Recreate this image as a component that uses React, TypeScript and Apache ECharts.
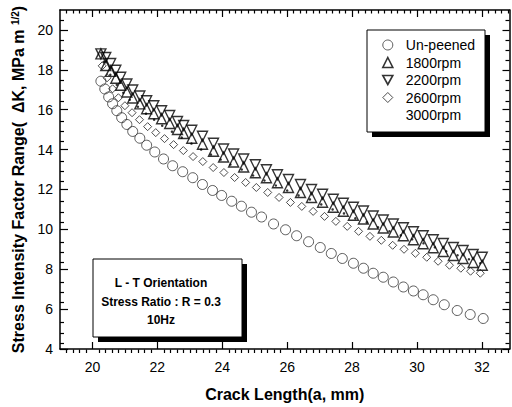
import React, { useEffect, useRef } from 'react';
import * as echarts from 'echarts';

const FONT = '"Liberation Sans", Arial, sans-serif';

// Axis ranges and tick labels
const X_MIN = 19;
const X_MAX = 32.85;
const Y_MIN = 4;
const Y_MAX = 21;
const xMajorTicks = [20, 22, 24, 26, 28, 30, 32];
const yMajorTicks = [4, 6, 8, 10, 12, 14, 16, 18, 20];

// Series names
const seriesNames = ['Un-peened', '1800rpm', '2200rpm', '2600rpm', '3000rpm'];

// Un-peened
const unpeenedX = [20.26, 20.38, 20.5, 20.62, 20.75, 20.9, 21.06, 21.24, 21.46, 21.67, 21.92, 22.19, 22.47, 22.78, 23.09, 23.39, 23.7, 23.98, 24.29, 24.59, 24.9, 25.21, 25.58, 25.95, 26.29, 26.66, 27.02, 27.36, 27.7, 28.04, 28.35, 28.65, 28.96, 29.27, 29.58, 29.89, 30.19, 30.5, 30.84, 31.24, 31.64, 32.04];
const unpeenedY = [17.43, 17.04, 16.64, 16.3, 15.95, 15.6, 15.26, 14.91, 14.57, 14.22, 13.88, 13.53, 13.19, 12.89, 12.59, 12.25, 11.95, 11.7, 11.41, 11.16, 10.86, 10.62, 10.27, 9.98, 9.68, 9.38, 9.09, 8.79, 8.54, 8.3, 8.05, 7.8, 7.6, 7.36, 7.11, 6.91, 6.72, 6.47, 6.22, 5.93, 5.73, 5.53];

// 1800rpm and 2200rpm (shared crack lengths)
const peenedX = [20.26, 20.41, 20.56, 20.72, 20.87, 21.06, 21.24, 21.46, 21.67, 21.89, 22.13, 22.38, 22.62, 22.81, 23.06, 23.39, 23.73, 24.04, 24.35, 24.66, 25.02, 25.36, 25.7, 26.04, 26.41, 26.75, 27.09, 27.42, 27.73, 28.04, 28.35, 28.65, 28.96, 29.27, 29.58, 29.89, 30.19, 30.5, 30.81, 31.12, 31.42, 31.73, 32.01];
const rpm1800Y = [18.8, 18.22, 17.92, 17.58, 17.23, 16.89, 16.59, 16.29, 16.05, 15.8, 15.55, 15.31, 15.01, 14.81, 14.57, 14.27, 13.92, 13.63, 13.38, 13.13, 12.84, 12.59, 12.34, 12.1, 11.85, 11.6, 11.36, 11.11, 10.91, 10.71, 10.52, 10.27, 10.07, 9.87, 9.68, 9.48, 9.28, 9.08, 8.89, 8.69, 8.54, 8.34, 8.2];
const rpm2200Y = [18.8, 18.62, 18.32, 17.98, 17.63, 17.29, 16.99, 16.69, 16.45, 16.2, 15.95, 15.71, 15.41, 15.21, 14.97, 14.67, 14.32, 14.03, 13.78, 13.53, 13.24, 12.99, 12.74, 12.5, 12.25, 12.0, 11.76, 11.51, 11.31, 11.11, 10.92, 10.67, 10.47, 10.27, 10.08, 9.88, 9.68, 9.48, 9.29, 9.09, 8.94, 8.74, 8.6];

// 2600rpm
const rpm2600X = [20.3, 20.45, 20.62, 20.8, 21.0, 21.22, 21.45, 21.7, 21.95, 22.22, 22.5, 22.8, 23.1, 23.4, 23.72, 24.05, 24.38, 24.72, 25.05, 25.4, 25.75, 26.1, 26.45, 26.8, 27.15, 27.5, 27.85, 28.2, 28.55, 28.9, 29.25, 29.6, 29.95, 30.3, 30.65, 31.0, 31.35, 31.65, 31.95];
const rpm2600Y = [18.2, 17.6, 17.05, 16.6, 16.2, 15.85, 15.5, 15.15, 14.85, 14.55, 14.25, 13.95, 13.65, 13.4, 13.1, 12.85, 12.6, 12.35, 12.1, 11.85, 11.6, 11.35, 11.15, 10.9, 10.65, 10.4, 10.15, 9.9, 9.65, 9.45, 9.2, 9.0, 8.8, 8.6, 8.4, 8.2, 8.05, 7.9, 7.8];

// 3000rpm
const rpm3000X = [20.35, 20.55, 20.75, 20.95, 21.15, 21.4, 21.65, 21.9, 22.15, 22.45, 22.75, 23.05, 23.35, 23.65, 23.95, 24.25, 24.6, 24.95, 25.3, 25.65, 26.0, 26.35, 26.7, 27.05, 27.4, 27.75, 28.1, 28.45, 28.8, 29.15, 29.5, 29.85, 30.2, 30.55, 30.9, 31.25, 31.6, 31.95];
const rpm3000Y = [18.4, 17.75, 17.25, 16.85, 16.5, 16.15, 15.8, 15.5, 15.2, 14.9, 14.6, 14.3, 14.0, 13.75, 13.5, 13.25, 13.0, 12.7, 12.45, 12.2, 11.95, 11.7, 11.5, 11.25, 11.0, 10.8, 10.55, 10.35, 10.1, 9.9, 9.7, 9.5, 9.3, 9.1, 8.9, 8.7, 8.5, 8.3];

// Annotation text
const infoLines = ['L - T Orientation', 'Stress Ratio : R = 0.3', '10Hz'];

const zip = (xs: number[], ys: number[]) => xs.map((x, i) => [x, ys[i]]);

function minorValues(min: number, max: number, step: number, majors: number[]) {
  const out: number[] = [];
  const n = Math.floor((max - min) / step + 1e-6);
  for (let i = 0; i <= n; i++) {
    const v = Math.round((min + i * step) * 100) / 100;
    if (v <= min || v >= max) continue;
    if (majors.some((m) => Math.abs(m - v) < 1e-6)) continue;
    out.push(v);
  }
  return out;
}

const GRID = { left: 60, top: 10, width: 449.5, height: 343 };

export default function App() {
  const ref = useRef<HTMLDivElement>(null);

  useEffect(() => {
    if (!ref.current) return;
    const chart = echarts.init(ref.current, undefined, { renderer: 'svg' });

    const xMinor = minorValues(X_MIN, X_MAX, 0.2, xMajorTicks);
    const yMinor = minorValues(Y_MIN, Y_MAX, 0.5, yMajorTicks);

    const lineStyle = { color: '#000', width: 1.5 };
    const tickStyle = { color: '#000', width: 1.2 };

    const mkX = (gridIndex: number, position: string, ticks: number[], len: number, main: boolean, withLabel: boolean) => ({
      type: 'value',
      gridIndex,
      position,
      min: X_MIN,
      max: X_MAX,
      axisLine: { show: main, onZero: false, lineStyle },
      splitLine: { show: false },
      axisTick: { show: true, inside: true, length: len, customValues: ticks, lineStyle: tickStyle },
      axisLabel: withLabel
        ? { show: true, customValues: ticks, margin: 11, fontSize: 14, color: '#000', fontFamily: FONT }
        : { show: false },
      ...(withLabel
        ? {
            name: 'Crack Length(a, mm)',
            nameLocation: 'middle',
            nameGap: 37,
            nameTextStyle: { fontSize: 16, fontWeight: 'bold', color: '#000', fontFamily: FONT },
          }
        : {}),
    });

    const mkY = (gridIndex: number, position: string, ticks: number[], len: number, main: boolean, withLabel: boolean) => ({
      type: 'value',
      gridIndex,
      position,
      min: Y_MIN,
      max: Y_MAX,
      axisLine: { show: main, onZero: false, lineStyle },
      splitLine: { show: false },
      axisTick: { show: true, inside: true, length: len, customValues: ticks, lineStyle: tickStyle },
      axisLabel: withLabel
        ? { show: true, customValues: ticks, margin: 7, fontSize: 14, color: '#000', fontFamily: FONT }
        : { show: false },
      ...(withLabel
        ? {
            name: 'Stress Intensity Factor Range(  ΔK, MPa m {sup|1/2})',
            nameLocation: 'middle',
            nameRotate: 90,
            nameGap: 30,
            nameTextStyle: {
              fontSize: 16,
              fontWeight: 'bold',
              color: '#000',
              fontFamily: FONT,
              rich: {
                sup: { fontSize: 10, fontWeight: 'bold', color: '#000', fontFamily: FONT, verticalAlign: 'top', lineHeight: 16 },
              },
            },
          }
        : {}),
    });

    const circleStyle = { color: 'transparent', borderColor: '#333', borderWidth: 1 };
    const triStyle = { color: 'transparent', borderColor: '#000', borderWidth: 1.4 };

    const option: any = {
      animation: false,
      backgroundColor: '#fff',
      textStyle: { fontFamily: FONT },
      grid: [
        { ...GRID, containLabel: false },
        { ...GRID, containLabel: false },
      ],
      xAxis: [
        mkX(0, 'bottom', xMajorTicks, 7, true, true),
        mkX(0, 'top', xMajorTicks, 7, true, false),
        mkX(1, 'bottom', xMinor, 3.5, false, false),
        mkX(1, 'top', xMinor, 3.5, false, false),
      ],
      yAxis: [
        mkY(0, 'left', yMajorTicks, 8, true, true),
        mkY(0, 'right', yMajorTicks, 7, true, false),
        mkY(1, 'left', yMinor, 4, false, false),
        mkY(1, 'right', yMinor, 4, false, false),
      ],
      legend: {
        orient: 'vertical',
        left: 382,
        top: 38,
        padding: 0,
        itemWidth: 10,
        itemHeight: 10,
        itemGap: 3.5,
        z: 10,
        textStyle: { fontSize: 14, lineHeight: 14, color: '#000', fontFamily: FONT, padding: [0, 0, 0, 8] },
        data: [
          { name: seriesNames[0], itemStyle: { borderWidth: 1 } },
          { name: seriesNames[1], itemStyle: { borderWidth: 1.6 } },
          { name: seriesNames[2], icon: 'path://M0,0L10,0L5,9Z', itemStyle: { borderWidth: 1.6 } },
          { name: seriesNames[3], itemStyle: { borderWidth: 1 } },
          { name: seriesNames[4], itemStyle: { opacity: 0 } },
        ],
        selectedMode: false,
      },
      graphic: [
        { type: 'rect', z: 5, shape: { x: 372, y: 35, width: 118, height: 102 }, style: { fill: '#000' } },
        { type: 'rect', z: 6, shape: { x: 367, y: 30, width: 118, height: 102 }, style: { fill: '#fff', stroke: '#000', lineWidth: 1 } },
        { type: 'rect', z: 5, shape: { x: 98, y: 264, width: 149, height: 78 }, style: { fill: '#000' } },
        { type: 'rect', z: 6, shape: { x: 93, y: 259, width: 149, height: 78 }, style: { fill: '#fff', stroke: '#000', lineWidth: 1 } },
        ...infoLines.map((t, i) => ({
          type: 'text',
          z: 7,
          x: 161,
          y: 283 + i * 18.5,
          style: {
            text: t,
            fill: '#000',
            font: `bold 12px ${FONT}`,
            textAlign: 'center',
            textVerticalAlign: 'middle',
          },
        })),
      ],
      series: [
        {
          name: seriesNames[0],
          type: 'scatter',
          xAxisIndex: 0,
          yAxisIndex: 0,
          symbol: 'circle',
          symbolSize: 10,
          itemStyle: circleStyle,
          data: zip(unpeenedX, unpeenedY),
        },
        {
          name: seriesNames[1],
          type: 'scatter',
          xAxisIndex: 0,
          yAxisIndex: 0,
          symbol: 'triangle',
          symbolSize: 10,
          itemStyle: triStyle,
          data: zip(peenedX, rpm1800Y),
        },
        {
          name: seriesNames[2],
          type: 'scatter',
          xAxisIndex: 0,
          yAxisIndex: 0,
          symbol: 'triangle',
          symbolRotate: 180,
          symbolSize: 10,
          itemStyle: triStyle,
          data: zip(peenedX, rpm2200Y),
        },
        {
          name: seriesNames[3],
          type: 'scatter',
          xAxisIndex: 0,
          yAxisIndex: 0,
          symbol: 'diamond',
          symbolSize: 8,
          itemStyle: { color: 'transparent', borderColor: '#222', borderWidth: 1 },
          data: zip(rpm2600X, rpm2600Y),
        },
        {
          name: seriesNames[4],
          type: 'scatter',
          xAxisIndex: 0,
          yAxisIndex: 0,
          symbol: 'circle',
          symbolSize: 2.5,
          itemStyle: { color: '#000' },
          data: zip(rpm3000X, rpm3000Y),
        },
      ],
    };

    chart.setOption(option);
    return () => chart.dispose();
  }, []);

  return (
    <div
      ref={ref}
      style={{ position: 'fixed', left: 0, top: 0, width: 512, height: 407, background: '#fff' }}
    />
  );
}
